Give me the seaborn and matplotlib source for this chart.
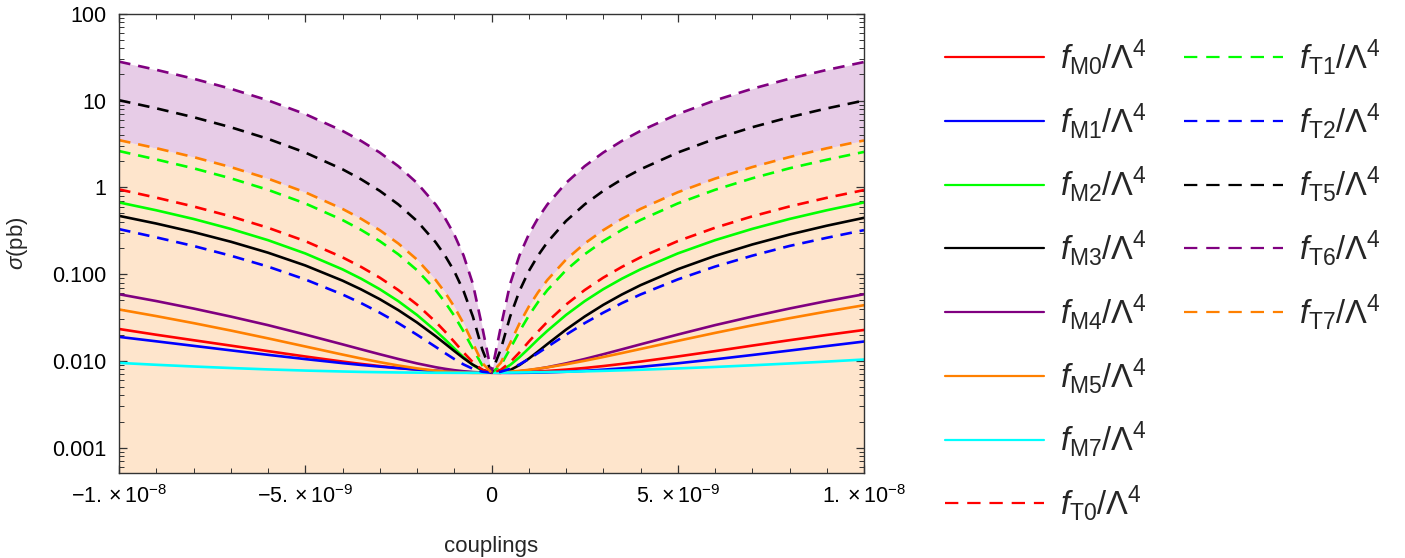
import numpy as np
import pandas as pd
import matplotlib
matplotlib.use("Agg")
import matplotlib.pyplot as plt
import matplotlib.ticker as mticker
import seaborn as sns

# ---------------- data ----------------
couplings = [-10e-9, -9e-9, -8e-9, -7e-9, -6e-9, -5e-9, -4e-9, -3.5e-9, -3e-9, -2.5e-9, -2e-9,
             -1.5e-9, -1.25e-9, -1e-9, -0.75e-9, -0.5e-9, -0.25e-9, 0.0,
             0.25e-9, 0.5e-9, 0.75e-9, 1e-9, 1.25e-9, 1.5e-9, 2e-9, 2.5e-9, 3e-9, 3.5e-9,
             4e-9, 5e-9, 6e-9, 7e-9, 8e-9, 9e-9, 10e-9]

fM0 = [0.0233, 0.0200, 0.0173, 0.01499, 0.01295, 0.01123, 0.00981, 0.00922, 0.00871, 0.00828, 0.00793,
       0.00765, 0.00755, 0.00746, 0.00739, 0.00734, 0.00731, 0.0073,
       0.00731, 0.00734, 0.00739, 0.00746, 0.00755, 0.00765, 0.00793, 0.00828, 0.00871, 0.00922,
       0.00981, 0.01123, 0.01295, 0.01499, 0.0173, 0.0199, 0.0227]
fM1 = [0.0189, 0.01680, 0.0149, 0.01322, 0.01174, 0.01048, 0.00942, 0.00897, 0.00858, 0.00823, 0.00794,
       0.00770, 0.00760, 0.00752, 0.00744, 0.00738, 0.00733, 0.0073,
       0.00728, 0.00727, 0.00728, 0.00730, 0.00733, 0.00737, 0.00750, 0.00768, 0.00792, 0.00820,
       0.00854, 0.00938, 0.01042, 0.01168, 0.01314, 0.01482, 0.0167]
fM2 = [0.67, 0.544, 0.432, 0.332, 0.246, 0.173, 0.1134, 0.0885, 0.0670, 0.0487, 0.0338,
       0.0222, 0.0177, 0.0139, 0.0110, 0.00896, 0.00771, 0.0073,
       0.00771, 0.00896, 0.0110, 0.0139, 0.0177, 0.0222, 0.0338, 0.0487, 0.0670, 0.0885,
       0.1134, 0.173, 0.246, 0.332, 0.432, 0.544, 0.67]
fM3 = [0.4693, 0.3826, 0.3049, 0.2362, 0.1765, 0.1258, 0.0841, 0.0666, 0.0514, 0.0384, 0.0277,
       0.01923, 0.01583, 0.0130, 0.01073, 0.00903, 0.00788, 0.0073,
       0.00728, 0.00783, 0.00893, 0.0106, 0.01283, 0.01563, 0.0229, 0.0324, 0.0442, 0.0582,
       0.0745, 0.1138, 0.1621, 0.2194, 0.2857, 0.3610, 0.4453]
fM4 = [0.0586, 0.0489, 0.0401, 0.0324, 0.0258, 0.0201, 0.0155, 0.01358, 0.01192, 0.01051, 0.00935,
       0.00845, 0.00810, 0.00781, 0.00759, 0.00743, 0.00733, 0.0073,
       0.00733, 0.00743, 0.00759, 0.00781, 0.00810, 0.00845, 0.00935, 0.01051, 0.01192, 0.01358,
       0.0155, 0.0201, 0.0258, 0.0324, 0.0401, 0.0489, 0.0586]
fM5 = [0.0391, 0.03281, 0.02724, 0.02237, 0.01817, 0.01465, 0.01182, 0.01065, 0.00966, 0.00884, 0.00819,
       0.00771, 0.00754, 0.00741, 0.00732, 0.00727, 0.00726, 0.0073,
       0.00738, 0.00750, 0.00767, 0.00788, 0.00813, 0.00842, 0.00913, 0.01002, 0.01107, 0.01230,
       0.01370, 0.01700, 0.02099, 0.02566, 0.0310, 0.03704, 0.0438]
fM7 = [0.00947, 0.00901, 0.00861, 0.00827, 0.00797, 0.00773, 0.00754, 0.00746, 0.00740, 0.00735, 0.00732,
       0.00729, 0.00729, 0.00728, 0.00728, 0.00728, 0.00729, 0.0073,
       0.00731, 0.00733, 0.00735, 0.00737, 0.00740, 0.00743, 0.00749, 0.00757, 0.00767, 0.00778,
       0.00790, 0.00818, 0.00851, 0.00889, 0.00933, 0.00981, 0.01036]
fT0 = [0.946, 0.761, 0.602, 0.463, 0.342, 0.240, 0.156, 0.121, 0.0910, 0.0654, 0.0445,
       0.0282, 0.0218, 0.0166, 0.0125, 0.00963, 0.00788, 0.0073,
       0.00788, 0.00963, 0.0125, 0.0166, 0.0218, 0.0282, 0.0445, 0.0654, 0.0910, 0.121,
       0.156, 0.240, 0.342, 0.463, 0.602, 0.757, 0.93]
fT1 = [2.62, 2.097, 1.658, 1.271, 0.936, 0.652, 0.420, 0.323, 0.240, 0.169, 0.111,
       0.0654, 0.0476, 0.0331, 0.0218, 0.0138, 0.00891, 0.0073,
       0.00891, 0.0138, 0.0218, 0.0331, 0.0476, 0.0654, 0.111, 0.169, 0.240, 0.323,
       0.420, 0.652, 0.936, 1.271, 1.658, 2.080, 2.56]
fT2 = [0.330, 0.265, 0.211, 0.163, 0.122, 0.0868, 0.0582, 0.0463, 0.0359, 0.0272, 0.0200,
       0.0145, 0.0123, 0.0105, 0.00909, 0.00810, 0.00750, 0.0073,
       0.00750, 0.00810, 0.00909, 0.0105, 0.0123, 0.0145, 0.0200, 0.0272, 0.0359, 0.0463,
       0.0582, 0.0868, 0.122, 0.163, 0.211, 0.262, 0.321]
fT5 = [10.1, 8.14, 6.433, 4.927, 3.622, 2.517, 1.614, 1.237, 0.911, 0.635, 0.409,
       0.233, 0.164, 0.108, 0.0638, 0.0324, 0.0136, 0.0073,
       0.0136, 0.0324, 0.0638, 0.108, 0.164, 0.233, 0.409, 0.635, 0.911, 1.237,
       1.614, 2.517, 3.622, 4.927, 6.433, 8.12, 10.0]
fT6 = [28.1, 22.61, 17.86, 13.68, 10.05, 6.982, 4.471, 3.425, 2.518, 1.751, 1.123,
       0.635, 0.443, 0.286, 0.164, 0.0771, 0.0247, 0.0073,
       0.0247, 0.0771, 0.164, 0.286, 0.443, 0.635, 1.123, 1.751, 2.518, 3.425,
       4.471, 6.982, 10.05, 13.68, 17.86, 22.55, 27.8]
fT7 = [3.50, 2.826, 2.234, 1.712, 1.260, 0.877, 0.564, 0.434, 0.321, 0.225, 0.147,
       0.0856, 0.0617, 0.0421, 0.0269, 0.0160, 0.00948, 0.0073,
       0.00948, 0.0160, 0.0269, 0.0421, 0.0617, 0.0856, 0.147, 0.225, 0.321, 0.434,
       0.564, 0.877, 1.260, 1.712, 2.234, 2.818, 3.47]

series_names = ["M0", "M1", "M2", "M3", "M4", "M5", "M7", "T0", "T1", "T2", "T5", "T6", "T7"]
series_values = [fM0, fM1, fM2, fM3, fM4, fM5, fM7, fT0, fT1, fT2, fT5, fT6, fT7]
series_colors = ["#FF0000", "#0000FF", "#00FF00", "#000000", "#800080", "#FF8000", "#00FFFF",
                 "#FF0000", "#00FF00", "#0000FF", "#000000", "#800080", "#FF8000"]
series_dashed = [False] * 7 + [True] * 6

x_ticks = [-1e-8, -5e-9, 0.0, 5e-9, 1e-8]
x_tick_labels = [r"$-1.\times10^{-8}$", r"$-5.\times10^{-9}$", "0", r"$5.\times10^{-9}$", r"$1.\times10^{-8}$"]
y_ticks = [0.001, 0.01, 0.1, 1, 10, 100]
y_tick_labels = ["0.001", "0.010", "0.100", "1", "10", "100"]

x_limits = (-1e-8, 1e-8)
y_limits = (0.00051, 100)

# ---------------- style ----------------
sns.set_style("ticks")
plt.rcParams["font.family"] = ["Liberation Sans", "DejaVu Sans"]
plt.rcParams["mathtext.fontset"] = "custom"
plt.rcParams["mathtext.rm"] = "Liberation Sans"
plt.rcParams["mathtext.it"] = "Liberation Sans:italic"
plt.rcParams["mathtext.bf"] = "Liberation Sans:bold"

fig = plt.figure(figsize=(14.05, 5.58), dpi=100)
ax = fig.add_axes([119 / 1405, 1 - 473 / 558, (864 - 119) / 1405, (473 - 13.8) / 558])
ax.set_axisbelow(False)

df = pd.DataFrame({"coupling": couplings})
for name, vals in zip(series_names, series_values):
    df[name] = vals

# fills (Mathematica-style filling)
ax.fill_between(df["coupling"], y_limits[0], df["T7"], color="#FEE5CC", lw=0, zorder=1)
ax.fill_between(df["coupling"], df["T7"], df["T6"], color="#E7CCE7", lw=0, zorder=1)

handles = []
for name, color, dashed in zip(series_names, series_colors, series_dashed):
    ls = (0, (4.4, 3.0)) if dashed else "-"
    sns.lineplot(data=df, x="coupling", y=name, color=color, lw=1.9, ax=ax,
                 linestyle=ls, zorder=3, sort=True)
    h, = ax.plot([], [], color=color, lw=1.6, linestyle=(0, (6.0, 4.0)) if dashed else "-")
    handles.append(h)

ax.set_yscale("log")
ax.set_xlim(*x_limits)
ax.set_ylim(*y_limits)
ax.set_xticks(x_ticks, labels=x_tick_labels)
ax.set_yticks(y_ticks, labels=y_tick_labels)
ax.xaxis.set_minor_locator(mticker.MultipleLocator(1e-9))
ax.yaxis.set_minor_locator(mticker.LogLocator(base=10, subs=np.arange(2, 10), numticks=20))
ax.yaxis.set_minor_formatter(mticker.NullFormatter())

frame_col = "#333333"
for sp in ax.spines.values():
    sp.set_color(frame_col)
    sp.set_linewidth(1.0)
    sp.set_zorder(5)
ax.tick_params(which="both", direction="in", top=True, right=True, colors=frame_col,
               labelcolor="black", labelsize=15.5)
ax.tick_params(which="major", length=6, width=0.9, pad=9)
ax.tick_params(which="minor", length=3.5, width=0.7)

ax.set_xlabel("couplings", fontsize=16, labelpad=20)
ax.set_ylabel(r"$\sigma$(pb)", fontsize=16, labelpad=16)

labels = [r"$f_{\mathrm{%s}}/\Lambda^{4}$" % n for n in series_names]
leg_kw = dict(frameon=False, fontsize=23.5, handlelength=3.03, handletextpad=0.49,
              labelspacing=0.73, borderpad=0, borderaxespad=0)
leg1 = fig.legend(handles[:8], labels[:8], loc="upper left",
                  bbox_to_anchor=(945 / 1405, 1 - 37 / 558), **leg_kw)
leg2 = fig.legend(handles[8:], labels[8:], loc="upper left",
                  bbox_to_anchor=(1184 / 1405, 1 - 37 / 558), **leg_kw)

fig.savefig("out.png", dpi=100)
